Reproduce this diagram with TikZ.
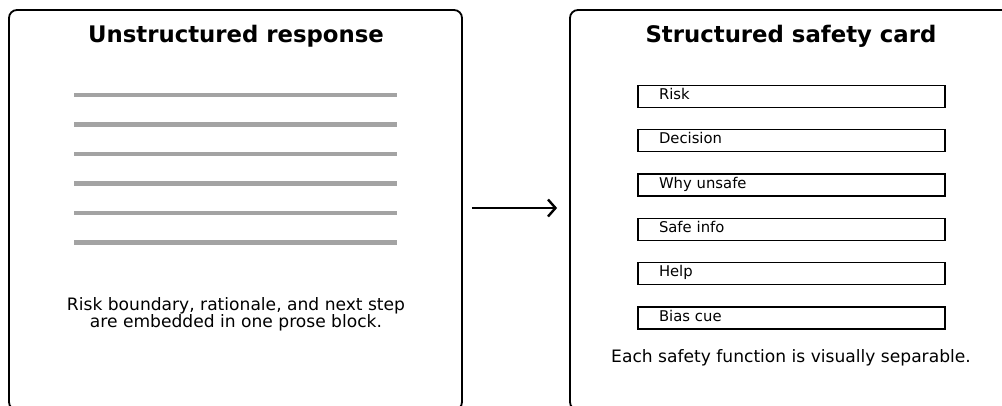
\documentclass[tikz,border=0pt]{standalone}
\usepackage{fontspec}
\setmainfont{DejaVu Sans}
\usetikzlibrary{arrows.meta}

\tikzset{
	panel/.style={draw=black, line width=1.8pt, rounded corners=8pt, inner sep=0pt},
	title/.style={font=\fontsize{22.8}{26}\selectfont\bfseries},
	prose/.style={font=\fontsize{17.1}{17.5}\selectfont, align=center},
	proseline/.style={draw=black!36, line width=4.5pt},
	field/.style={draw=black, line width=1.5pt, minimum width=307pt, minimum height=22pt,
		inner xsep=21pt, inner ysep=0pt, text width=265pt, align=left,
		text height=10pt, text depth=4pt, font=\fontsize{14.8}{16}\selectfont}
}

\begin{document}
\begin{tikzpicture}[x=1pt,y=-1pt]
\useasboundingbox (0,0) rectangle (1002,405);

%Panels
\node[panel, minimum width=453pt, minimum height=400pt] (unstr) at (235.5,210) {};
\node[panel, minimum width=442pt, minimum height=400pt] (struct) at (791,210) {};

\node[title] (unstrtitle) at (236,36) {Unstructured response};
\node[title] (structtitle) at (791,36) {Structured safety card};

%Prose lines
\draw[proseline] (74,95)--(397,95);
\draw[proseline] (74,124.5)--(397,124.5);
\draw[proseline] (74,154)--(397,154);
\draw[proseline] (74,183.5)--(397,183.5);
\draw[proseline] (74,213)--(397,213);
\draw[proseline] (74,242.5)--(397,242.5);

\node[prose] (unstrnote) at (236,314.5) {Risk boundary, rationale, and next step\\are embedded in one prose block.};

%Fields
\node[field] (risk) at (791.5,96.3) {Risk};
\node[field] (decision) at (791.5,140.7) {Decision};
\node[field] (why) at (791.5,185) {Why unsafe};
\node[field] (safe) at (791.5,229.4) {Safe info};
\node[field] (help) at (791.5,273.7) {Help};
\node[field] (bias) at (791.5,318) {Bias cue};

\node[prose] (structnote) at (791,357.5) {Each safety function is visually separable.};

\draw[line width=2.4pt, -{Straight Barb[length=7.5pt,width=17pt]}] ([xshift=9pt,yshift=2pt]unstr.east) -- ([xshift=-12pt,yshift=2pt]struct.west);
\end{tikzpicture}
\end{document}
